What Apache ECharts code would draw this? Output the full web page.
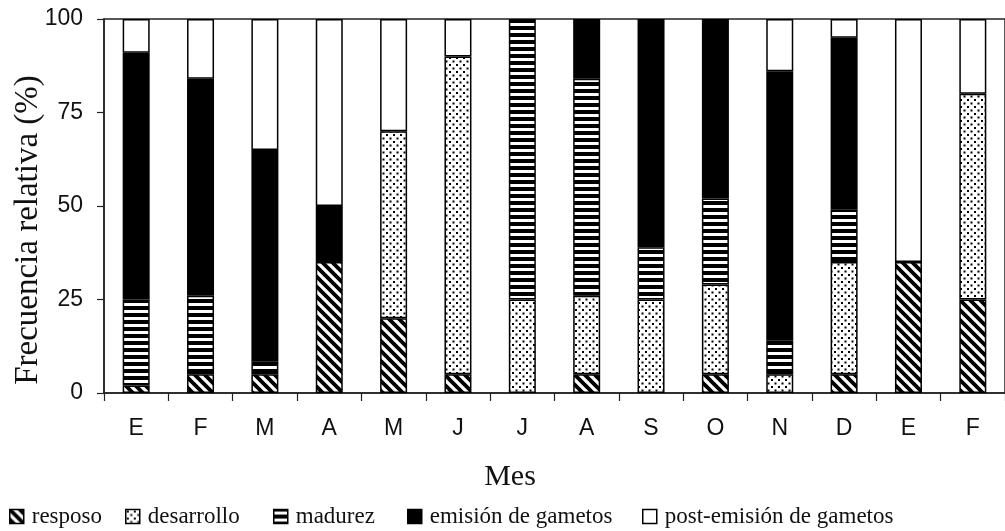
<!DOCTYPE html>
<html>
<head>
<meta charset="utf-8">
<script src="https://cdn.jsdelivr.net/npm/echarts@6/dist/echarts.min.js"></script>
<style>html,body{margin:0;padding:0;background:#fff}#c{width:1005px;height:531px}</style>
</head>
<body>
<div id="c"></div>
<script>
// ---- data ----
const months = ['E','F','M','A','M','J','J','A','S','O','N','D','E','F'];
const seriesNames = ['resposo','desarrollo','madurez','emisión de gametos','post-emisión de gametos'];
const resposo    = [2, 5, 5, 35, 20, 5, 0, 5, 0, 5, 0, 5, 35, 25];
const desarrollo = [0, 0, 0, 0, 50, 85, 25, 21, 25, 24, 5, 30, 0, 55];
const madurez    = [23, 21, 3.5, 0, 0, 0, 75, 58, 14, 23, 9, 14, 0, 0];
const emision    = [66, 58, 56.5, 15, 0, 0, 0, 16, 61, 48, 72, 46, 0, 0];
const postEmision= [9, 16, 35, 50, 30, 10, 0, 0, 0, 0, 14, 5, 65, 20];
const yTicks = [0, 25, 50, 75, 100];

// ---- patterns ----
function makeCanvas(w, h, draw) {
  const c = document.createElement('canvas');
  c.width = w; c.height = h;
  const ctx = c.getContext('2d');
  draw(ctx, w, h);
  return c;
}
const diag = makeCanvas(10, 10, (ctx, w, h) => {
  ctx.fillStyle = '#fff'; ctx.fillRect(0, 0, w, h);
  ctx.strokeStyle = '#000'; ctx.lineWidth = 3.8; ctx.lineCap = 'square';
  ctx.beginPath();
  ctx.moveTo(-2, -2); ctx.lineTo(w + 2, h + 2);
  ctx.moveTo(-2 - w, -2); ctx.lineTo(2, h + 2);
  ctx.moveTo(-2, -2 - h); ctx.lineTo(w + 2, 2);
  ctx.moveTo(-2, h - 2); ctx.lineTo(w + 2, 2 * h + 2);
  ctx.moveTo(w - 2, -2); ctx.lineTo(2 * w + 2, h + 2);
  ctx.stroke();
});
const dots = makeCanvas(7, 7, (ctx, w, h) => {
  ctx.fillStyle = '#fff'; ctx.fillRect(0, 0, w, h);
  ctx.fillStyle = '#000';
  ctx.fillRect(1, 1, 2, 2);
  ctx.fillRect(4.5, 4.5, 2, 2);
});
const hstripes = makeCanvas(4, 7, (ctx, w, h) => {
  ctx.fillStyle = '#000'; ctx.fillRect(0, 0, w, h);
  ctx.fillStyle = '#fff'; ctx.fillRect(0, 2, w, 3);
});
const fills = [
  { image: diag, repeat: 'repeat' },
  { image: dots, repeat: 'repeat' },
  { image: hstripes, repeat: 'repeat' },
  '#000',
  '#fff'
];
const values = [resposo, desarrollo, madurez, emision, postEmision];

const chart = echarts.init(document.getElementById('c'));
const serif = 'Liberation Serif, Times New Roman, serif';
const sans = 'Liberation Sans, Arial, sans-serif';

const legendLefts = [9, 125, 273, 407, 642];
const option = {
  animation: false,
  backgroundColor: '#fff',
  grid: { left: 104, right: -2, top: 19, bottom: 138, show: true, borderColor: '#222', borderWidth: 1.5, backgroundColor: 'transparent' },
  xAxis: {
    type: 'category',
    data: months,
    axisLine: { lineStyle: { color: '#222', width: 1.5 } },
    axisTick: { show: true, length: 8, alignWithLabel: false, lineStyle: { color: '#222', width: 1.2 } },
    axisLabel: { fontFamily: sans, fontSize: 23, color: '#111', margin: 24 }
  },
  yAxis: {
    type: 'value', min: 0, max: 100, interval: 25,
    axisLine: { show: true, lineStyle: { color: '#222', width: 1.5 } },
    axisTick: { show: true, length: 7, lineStyle: { color: '#222', width: 1.2 } },
    splitLine: { show: false },
    axisLabel: { fontFamily: sans, fontSize: 23, color: '#111', margin: 21,
      formatter: v => yTicks.indexOf(v) >= 0 ? String(v) : '' }
  },
  legend: seriesNames.map((n, i) => ({
    data: [n], left: legendLefts[i], top: 505, icon: 'rect',
    itemWidth: 14, itemHeight: 14, padding: 0,
    selectedMode: false,
    itemStyle: { borderColor: '#000', borderWidth: 1.5 },
    textStyle: { fontFamily: serif, fontSize: 23, color: '#111', padding: [0, 0, 0, 3] }
  })),
  graphic: [
    { type: 'text', x: 28, y: 230, rotation: Math.PI / 2,
      style: { text: 'Frecuencia relativa (%)', font: '33px ' + serif, fill: '#111', align: 'center', verticalAlign: 'middle' } },
    { type: 'text', x: 510, y: 477,
      style: { text: 'Mes', font: '30px ' + serif, fill: '#111', align: 'center', verticalAlign: 'middle' } }
  ],
  series: seriesNames.map((n, i) => ({
    name: n, type: 'bar', stack: 'total', barWidth: 27,
    itemStyle: { color: fills[i], borderColor: '#000', borderWidth: 1.5 },
    emphasis: { disabled: true },
    data: values[i].map(v => v === 0 ? null : v)
  }))
};
chart.setOption(option);
</script>
</body>
</html>
